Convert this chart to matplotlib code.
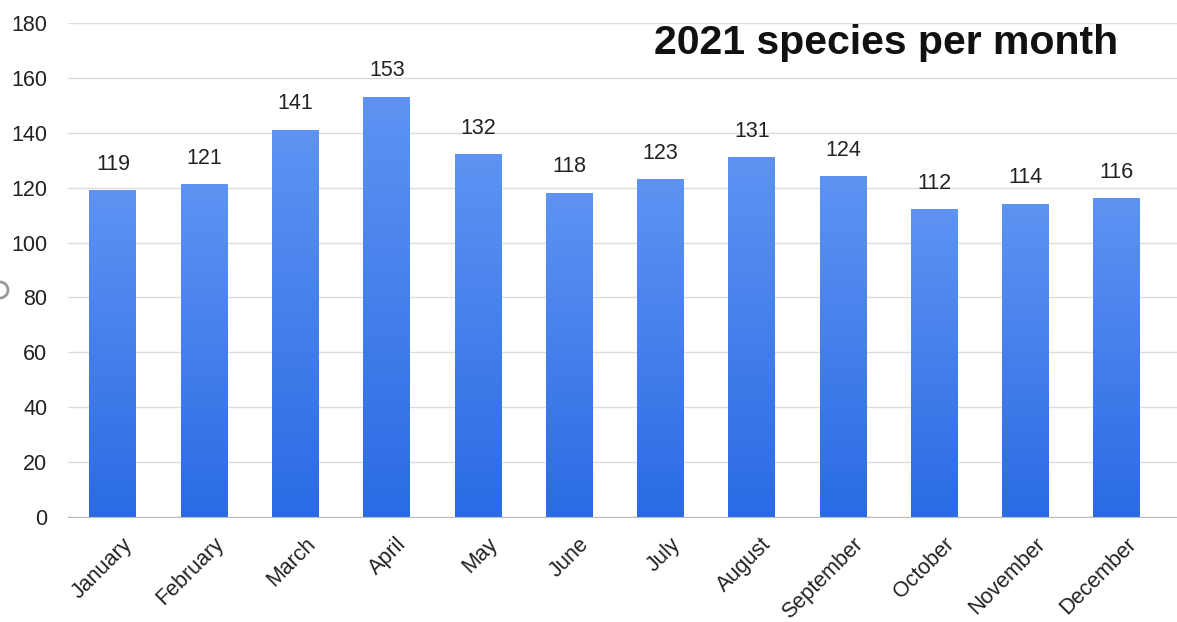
import matplotlib
matplotlib.use("Agg")
import matplotlib.pyplot as plt
import numpy as np
from matplotlib.patches import Circle

months = ["January", "February", "March", "April", "May", "June", "July",
          "August", "September", "October", "November", "December"]
species = [119, 121, 141, 153, 132, 118, 123, 131, 124, 112, 114, 116]
yticks = [0, 20, 40, 60, 80, 100, 120, 140, 160, 180]
title = "2021 species per month"

plt.rcParams['font.family'] = ['Liberation Sans', 'DejaVu Sans']

fig = plt.figure(figsize=(11.77, 6.22), dpi=100)
ax = fig.add_axes([68/1177, 105/622, 1 - 68/1177, (517-23)/622])

x = np.arange(len(months))
width = 0.515
bars = ax.bar(x, species, width=width, color='none', zorder=2)

top_c = np.array([0x5e, 0x93, 0xf2]) / 255
bot_c = np.array([0x2a, 0x6b, 0xe4]) / 255
grad = np.linspace(0, 1, 256)[:, None]
cols = bot_c[None, None, :] * (1 - grad[..., None]) + top_c[None, None, :] * grad[..., None]
for b in bars:
    x0 = b.get_x(); h = b.get_height()
    ax.imshow(cols, extent=[x0, x0 + width, 0, h], origin='lower',
              aspect='auto', zorder=2, interpolation='bilinear')

for xi, v in zip(x, species):
    ax.annotate(str(v), (xi, v), xytext=(0, 19), textcoords='offset points',
                ha='center', va='center', fontsize=15.5, color='#222222')

label_shift = 0.1  # rotated labels sit slightly right of bar centres
ax.set_xlim(-0.493, 11.66)
ax.set_ylim(0, 180)
ax.set_yticks(yticks)
ax.set_xticks(x + label_shift)
ax.set_xticklabels(months, rotation=45, ha='right', va='top',
                   rotation_mode='anchor', fontsize=15.5, color='#222222')
ax.tick_params(axis='y', length=0, pad=15, labelsize=15.5, labelcolor='#222222')
ax.tick_params(axis='x', length=0, pad=12)
ax.grid(axis='y', color='#dddddd', linewidth=1, zorder=0)
ax.set_axisbelow(True)
for s in ['top', 'right', 'left']:
    ax.spines[s].set_visible(False)
ax.spines['bottom'].set_color('#bbbbbb')

fig.text(886/1177, 1 - 43/622, title, ha='center', va='center',
         fontsize=29.5, fontweight='bold', color='#111111')

fig.patches.append(Circle((0, 622 - 290), 8, transform=None, fill=False,
                          edgecolor='#999999', linewidth=2))

fig.savefig("out.png", dpi=100)
